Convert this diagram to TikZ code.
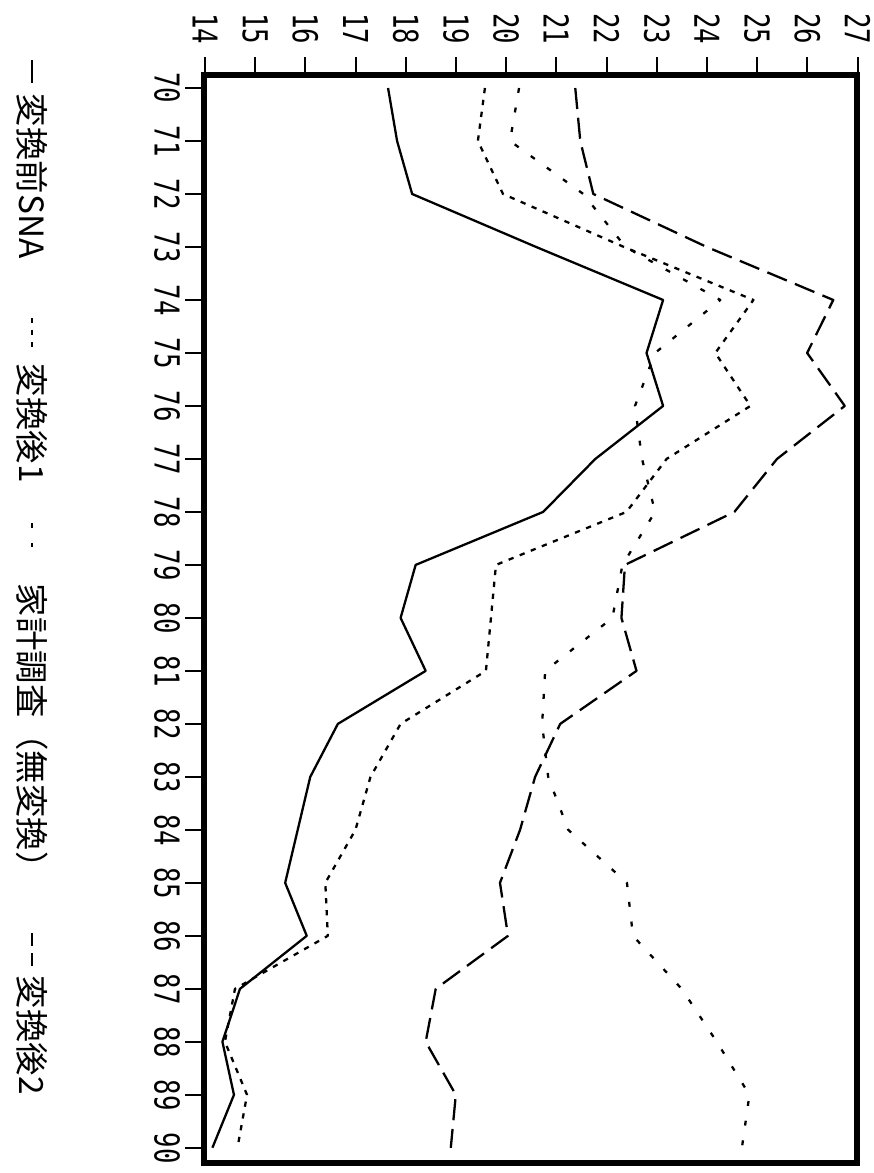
\documentclass[tikz,border=0pt]{standalone}
\usepackage{fontspec}
\setmainfont{DejaVu Sans Mono}
\newfontfamily\jpfont{Noto Sans CJK JP}

\begin{document}
\begin{tikzpicture}[x=0.02cm, y=0.02cm, rotate=-90, transform shape, line width=1.1pt]
\tikzstyle{sna}=[line width=1.3pt, line join=round]
\tikzstyle{conv one}=[sna, dash pattern=on 3pt off 3.8pt]
\tikzstyle{survey}=[sna, dash pattern=on 2.8pt off 8.5pt]
\tikzstyle{conv two}=[sna, dash pattern=on 12pt off 5pt]
\tikzstyle{num}=[inner sep=0pt, font=\fontsize{19.5}{20}\selectfont, xscale=0.75]
\tikzstyle{legend}=[inner sep=0pt, anchor=west, font=\jpfont\fontsize{19}{20}\selectfont]

\useasboundingbox (0,0) rectangle (1173,874);
\fill[white] (0,0) rectangle (1173,874);

% frame and axes
\draw[line width=3.2pt] (75,204) rectangle (1163,857);
\foreach \k in {0,...,13}{
  \pgfmathtruncatemacro\val{14+\k}
  \draw (57,{205+50.2*\k}) -- (75,{205+50.2*\k});
  \node[num] (v\val) at (29,{205+50.2*\k}) {\val};
}
\foreach \k in {0,...,20}{
  \pgfmathtruncatemacro\yr{70+\k}
  \draw ({88+53*\k},185) -- ({88+53*\k},204);
  \node[num] (y\yr) at ({88+53*\k},167) {\yr};
}

% series
\begin{scope}[shift={(88,-497.8)}, x=1.06cm, y=1.004cm]
\draw[sna] (0,17.65) \foreach \v [count=\i] in {17.83,18.13,20.6,23.13,22.8,23.13,21.78,20.74,18.2,17.9,18.4,16.65,16.1,15.85,15.6,16.03,14.7,14.35,14.58,14.15} {-- (\i,\v)};
\draw[conv one] (0,19.58) \foreach \v [count=\i] in {19.44,19.94,22.35,24.93,24.17,24.87,23.2,22.4,19.8,19.7,19.6,17.9,17.3,17.0,16.4,16.45,14.6,14.4,14.84,14.65} {-- (\i,\v)};
\draw[survey] (0,20.26) \foreach \v [count=\i] in {20.08,21.54,22.38,24.27,22.97,22.57,22.71,22.97,22.32,22.12,20.78,20.72,20.84,21.24,22.41,22.53,23.5,24.2,24.85,24.7} {-- (\i,\v)};
\draw[conv two] (0,21.38) \foreach \v [count=\i] in {21.48,21.74,24.0,26.52,26.0,26.75,25.4,24.55,22.37,22.3,22.6,21.08,20.58,20.28,19.88,20.04,18.6,18.4,19.0,18.9} {-- (\i,\v)};
\end{scope}

% legend
\coordinate (s1a) at (60,32);  \coordinate (s1b) at (83,32);
\coordinate (s2a) at (318,32); \coordinate (s2b) at (347,32);
\coordinate (s3a) at (523,32); \coordinate (s3b) at (547,32);
\coordinate (s4a) at (933,32); \coordinate (s4b) at (967,32);
\draw[sna] (s1a) -- (s1b);
\draw[conv one] (s2a) -- (s2b);
\draw[survey] (s3a) -- (s3b);
\draw[conv two, dash pattern=on 7.5pt off 4pt] (s4a) -- (s4b);
\node[legend] (l1) at (93,32) {変換前SNA};
\node[legend] (l2) at (363,32) {変換後1};
\node[legend] (l3) at (583,32) {家計調査（無変換）};
\node[legend] (l4) at (975,32) {変換後2};
\end{tikzpicture}
\end{document}
